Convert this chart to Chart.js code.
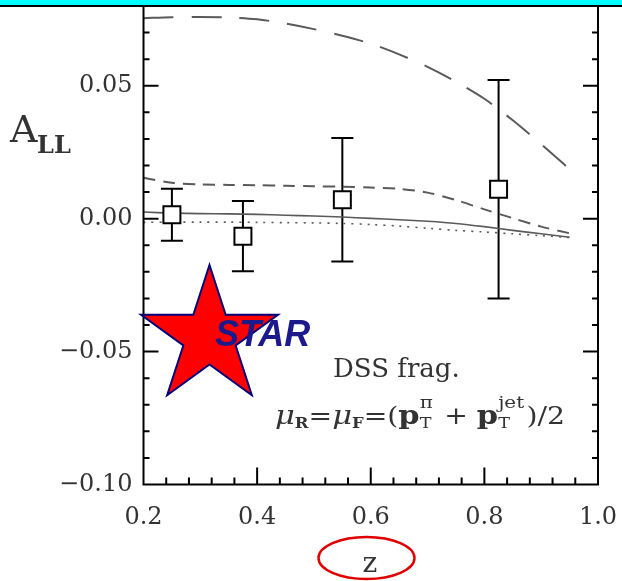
<!DOCTYPE html>
<html>
<head>
<meta charset="utf-8">
<script src="https://cdn.jsdelivr.net/npm/chart.js"></script>
<style>
  html, body { margin: 0; padding: 0; background: #fff; }
  #wrap { position: relative; width: 622px; height: 581px; }
</style>
</head>
<body>
<div id="wrap"><canvas id="allChart" width="622" height="581"></canvas></div>
<script>
// ---------------------------------------------------------------- data

// measured asymmetry points
const zValues = [0.25, 0.375, 0.55, 0.825]
const allValues = [0.0015, -0.0066, 0.0071, 0.0111]
const allErrors = [0.0098, 0.0132, 0.0232, 0.0411]

// theory curves, all on the same z grid
const curveZ = [0.20, 0.25, 0.30, 0.35, 0.40, 0.45, 0.50, 0.55, 0.60, 0.65, 0.70, 0.75, 0.80, 0.85, 0.90, 0.95]
const maxDG = [0.0754, 0.0758, 0.0759, 0.0757, 0.0750, 0.0734, 0.0713, 0.0688, 0.0658, 0.0618, 0.0571, 0.0515, 0.0451, 0.0370, 0.0280, 0.0186]
const grsvStd = [0.0154, 0.0135, 0.0129, 0.0127, 0.0126, 0.0124, 0.0122, 0.0120, 0.0117, 0.0112, 0.0098, 0.0070, 0.0035, 0.0002, -0.0030, -0.0055]
const dssv = [0.0025, 0.0021, 0.0019, 0.0018, 0.0016, 0.0013, 0.0010, 0.0006, 0.0001, -0.0004, -0.0010, -0.0018, -0.0030, -0.0044, -0.0057, -0.0070]
const zeroDG = [-0.0014, -0.0013, -0.0013, -0.0013, -0.0014, -0.0015, -0.0016, -0.0018, -0.0022, -0.0028, -0.0036, -0.0044, -0.0050, -0.0057, -0.0064, -0.0071]

// axis ticks
const xTickValues = [0.2, 0.4, 0.6, 0.8, 1.0]
const xTickLabels = ['0.2', '0.4', '0.6', '0.8', '1.0']
const yTickValues = [-0.10, -0.05, 0.00, 0.05]
const yTickLabels = ['\u22120.10', '\u22120.05', '0.00', '0.05']

// ---------------------------------------------------------------- helpers

const serif = '"DejaVu Serif", serif'
const textGray = '#333'
const curveGray = '#5a5a5a'

function curve(values) {
    return values.map((v, i) => ({ x: curveZ[i], y: v }))
}

function lineSet(values, dash, width, order) {
    return {
        type: 'scatter',
        data: curve(values),
        showLine: true,
        borderColor: curveGray,
        borderWidth: width,
        borderDash: dash,
        pointRadius: 0,
        tension: 0.3,
        order: order
    }
}

// keep the plot box where it is, no extra room for edge labels
function noEdgePadding(s) {
    s.paddingLeft = 0
    s.paddingRight = 0
    s.paddingTop = 0
    s.paddingBottom = 0
}

// ---------------------------------------------------------------- plugins

// error bars drawn under the markers
const errorBars = {
    id: 'errorBars',
    beforeDatasetsDraw(chart) {
        const { ctx, scales: { x, y } } = chart
        ctx.save()
        ctx.strokeStyle = '#000'
        ctx.lineWidth = 2
        zValues.forEach((z, i) => {
            const px = x.getPixelForValue(z)
            const top = y.getPixelForValue(allValues[i] + allErrors[i])
            const bot = y.getPixelForValue(allValues[i] - allErrors[i])
            ctx.beginPath()
            ctx.moveTo(px, top); ctx.lineTo(px, bot)
            ctx.moveTo(px - 11, top); ctx.lineTo(px + 11, top)
            ctx.moveTo(px - 11, bot); ctx.lineTo(px + 11, bot)
            ctx.stroke()
        })
        ctx.restore()
    }
}

// box frame with inward ticks
const frame = {
    id: 'frame',
    afterDatasetsDraw(chart) {
        const { ctx, chartArea: a, scales: { x, y } } = chart
        ctx.save()
        ctx.strokeStyle = '#000'
        ctx.lineWidth = 2
        ctx.beginPath()
        ctx.moveTo(a.left, a.top); ctx.lineTo(a.left, a.bottom)
        ctx.lineTo(a.right, a.bottom); ctx.lineTo(a.right, a.top)
        // y ticks every 0.01, both sides
        for (let k = -10; k <= 8; k++) {
            const py = y.getPixelForValue(k / 100)
            const len = k % 5 === 0 ? 15 : 6
            ctx.moveTo(a.left, py); ctx.lineTo(a.left + len, py)
            ctx.moveTo(a.right, py); ctx.lineTo(a.right - len, py)
        }
        // x ticks every 0.04
        for (let k = 5; k <= 25; k++) {
            const px = x.getPixelForValue(k * 0.04)
            const len = k % 5 === 0 ? 17 : 7
            ctx.moveTo(px, a.bottom); ctx.lineTo(px, a.bottom - len)
        }
        ctx.stroke()
        ctx.restore()
    },
    afterDraw(chart) {
        const { ctx } = chart
        ctx.save()
        // slide banner
        ctx.fillStyle = '#00ffff'
        ctx.fillRect(0, 0, chart.width, 5)
        ctx.fillStyle = '#000'
        ctx.fillRect(0, 5, chart.width, 2)
        ctx.restore()
    }
}

// labels, star logo and formula
const annotations = {
    id: 'annotations',
    afterDraw(chart) {
        const { ctx } = chart
        ctx.save()
        ctx.fillStyle = textGray
        ctx.textBaseline = 'alphabetic'

        // y axis title A_LL
        ctx.font = '38px ' + serif
        ctx.fillText('A', 10, 142)
        ctx.font = 'bold 24px ' + serif
        ctx.fillText('LL', 37, 153)

        // x axis title with red ring
        ctx.font = '28px ' + serif
        ctx.textAlign = 'center'
        ctx.fillText('z', 370, 572)
        ctx.textAlign = 'left'
        ctx.strokeStyle = '#e00000'
        ctx.lineWidth = 2.5
        ctx.beginPath()
        ctx.ellipse(366.5, 558, 48, 21, 0, 0, Math.PI * 2)
        ctx.stroke()

        // star logo
        const cx = 209.5, cy = 337, rOut = 72, rIn = 27.5
        ctx.beginPath()
        for (let k = 0; k < 10; k++) {
            const r = k % 2 === 0 ? rOut : rIn
            const ang = -Math.PI / 2 + k * Math.PI / 5
            const px = cx + r * Math.cos(ang), py = cy + r * Math.sin(ang)
            if (k === 0) ctx.moveTo(px, py); else ctx.lineTo(px, py)
        }
        ctx.closePath()
        ctx.fillStyle = '#ff0000'
        ctx.fill()
        ctx.strokeStyle = '#00007a'
        ctx.lineWidth = 2
        ctx.stroke()

        ctx.fillStyle = '#1c1a8a'
        ctx.font = 'italic bold 36px "Liberation Sans", Arial, sans-serif'
        ctx.fillText('STAR', 215, 346)

        // fragmentation set
        ctx.fillStyle = textGray
        ctx.font = '26px ' + serif
        ctx.fillText('DSS frag.', 333, 377)

        // scale choice formula, built piece by piece then squeezed to width
        const base = 424
        const supFont = '17px ' + serif
        const pieces = [
            { t: '\u03bc', f: 'italic 26px ' + serif, dy: 0 },
            { t: 'R', f: 'bold 14px ' + serif, dy: 4 },
            { t: '=', f: '24px ' + serif, dy: 0 },
            { t: '\u03bc', f: 'italic 26px ' + serif, dy: 0 },
            { t: 'F', f: 'bold 14px ' + serif, dy: 4 },
            { t: '=(', f: '24px ' + serif, dy: 0 },
            { t: 'p', f: 'bold 26px ' + serif, dy: 0 },
            { t: 'T', f: '15px ' + serif, dy: 4, sup: '\u03c0' },
            { t: ' + ', f: '24px ' + serif, dy: 0 },
            { t: 'p', f: 'bold 26px ' + serif, dy: 0 },
            { t: 'T', f: '15px ' + serif, dy: 4, sup: 'jet' },
            { t: ')/2', f: '24px ' + serif, dy: 0 }
        ]
        let w = 0
        pieces.forEach(p => {
            ctx.font = p.f
            let pw = ctx.measureText(p.t).width
            if (p.sup) {
                ctx.font = supFont
                pw = Math.max(pw, ctx.measureText(p.sup).width)
            }
            p.w = pw + (p.sup ? 2 : 0)
            w += p.w
        })
        const left = 275, span = 290
        ctx.translate(left, 0)
        ctx.scale(span / w, 1)
        let px = 0
        pieces.forEach(p => {
            ctx.font = p.f
            ctx.fillText(p.t, px, base + p.dy)
            if (p.sup) {
                ctx.font = supFont
                ctx.fillText(p.sup, px, base - 16)
            }
            px += p.w
        })
        ctx.restore()
    }
}

// ---------------------------------------------------------------- chart

const dataAll = {
    datasets: [
        {
            type: 'scatter',
            data: zValues.map((z, i) => ({ x: z, y: allValues[i] })),
            pointStyle: 'rect',
            pointRadius: 12,
            pointBorderWidth: 2,
            pointBorderColor: '#000',
            pointBackgroundColor: '#fff',
            order: 0
        },
        lineSet(maxDG, [30, 18], 2, 1),
        lineSet(grsvStd, [12, 8], 2, 2),
        lineSet(dssv, [], 1.6, 3),
        lineSet(zeroDG, [2, 6], 1.6, 4)
    ]
}

const configAll = {
    type: 'scatter',
    data: dataAll,
    options: {
        responsive: false,
        animation: false,
        events: [],
        layout: { autoPadding: false, padding: { top: 6, right: 24, left: 0, bottom: 0 } },
        plugins: {
            legend: { display: false },
            tooltip: { enabled: false }
        },
        scales: {
            x: {
                type: 'linear',
                min: 0.2,
                max: 1.0,
                grid: { display: false, drawTicks: false },
                border: { display: false },
                afterBuildTicks: s => { s.ticks = xTickValues.map(v => ({ value: v })) },
                afterFit: s => { s.height = 96.5; noEdgePadding(s) },
                ticks: {
                    padding: 19,
                    maxRotation: 0,
                    color: textGray,
                    font: { family: 'DejaVu Serif', size: 24 },
                    callback: v => xTickLabels[xTickValues.findIndex(t => Math.abs(t - v) < 1e-9)]
                }
            },
            y: {
                type: 'linear',
                min: -0.10,
                max: 0.08,
                grid: { display: false, drawTicks: false },
                border: { display: false },
                afterBuildTicks: s => { s.ticks = yTickValues.map(v => ({ value: v })) },
                afterFit: s => { s.width = 143.5; noEdgePadding(s) },
                ticks: {
                    padding: 11,
                    color: textGray,
                    font: { family: 'DejaVu Serif', size: 24 },
                    callback: v => yTickLabels[yTickValues.findIndex(t => Math.abs(t - v) < 1e-9)]
                }
            }
        }
    },
    plugins: [errorBars, frame, annotations]
}

let allChart = new Chart(document.getElementById('allChart'), configAll)
</script>
</body>
</html>
